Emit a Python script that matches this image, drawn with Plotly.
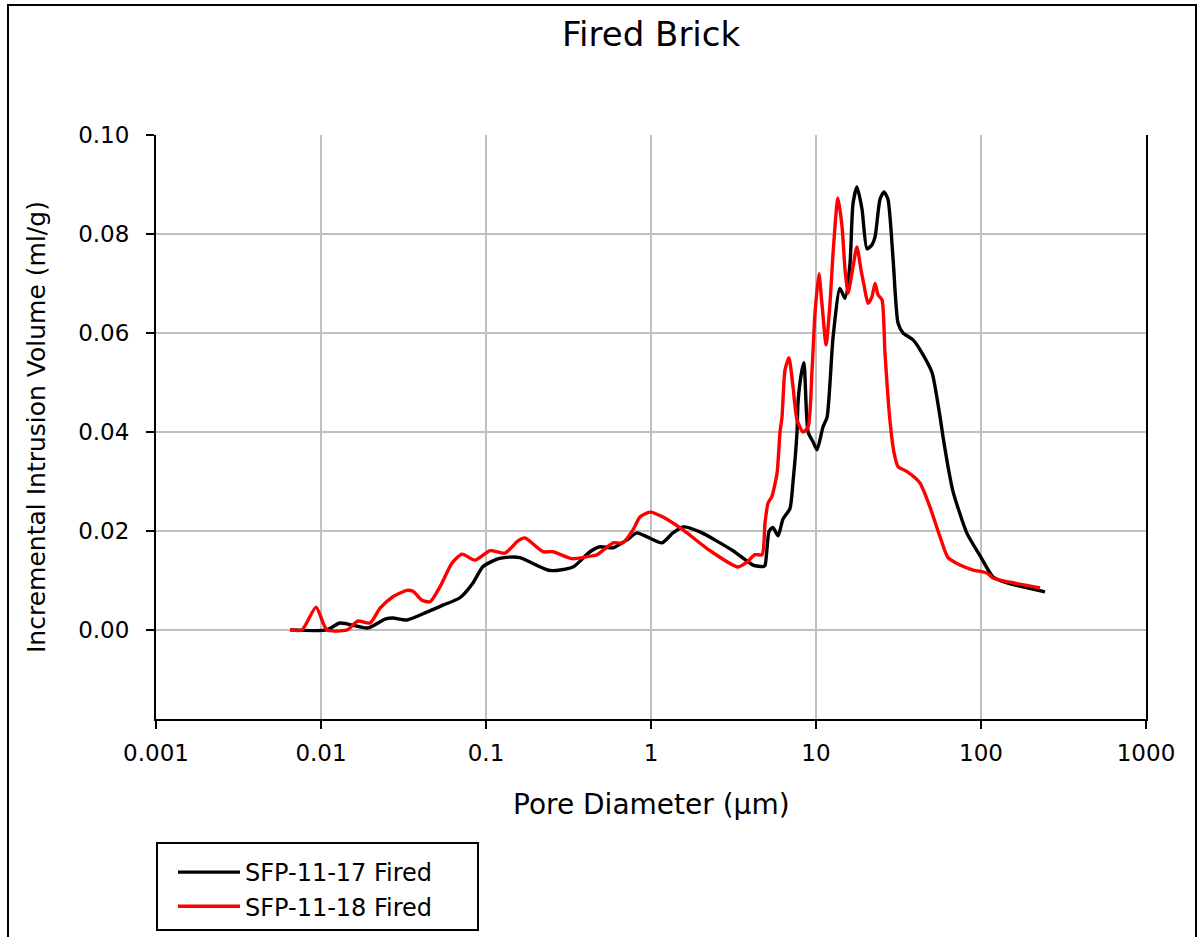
import plotly.graph_objects as go

# ---- data (pore diameter in µm, incremental intrusion in ml/g) ----
d17 = [0.00649, 0.01086, 0.01303, 0.01928, 0.02443, 0.02729, 0.03319, 0.04385, 0.05483,
       0.06950, 0.08337, 0.09594, 0.1167, 0.1396, 0.1607, 0.2443, 0.3365, 0.4266,
       0.4909, 0.5888, 0.7161, 0.8222, 0.9462, 1.167, 1.358, 1.563, 1.982, 3.141,
       4.150, 4.775, 4.909, 5.2, 5.483, 5.888, 6.310, 6.950, 7.261, 7.674, 7.780,
       8.222, 8.453, 8.954, 9.594, 10.14, 11.02, 11.67, 12.68, 13.96, 15.00, 16.07,
       16.75, 17.70, 19.01, 20.37, 21.83, 22.80, 24.43, 25.82, 27.29, 29.31, 31.41,
       33.65, 38.73, 43.85, 50.47, 56.49, 58.88, 63.10, 67.61, 82.22, 98.63,
       118.3, 143.9, 244.3]
v17 = [0.0, 0.0, 0.0014, 0.0004, 0.0022, 0.0024, 0.0020, 0.0036, 0.0050,
       0.0065, 0.0095, 0.0128, 0.0143, 0.0147, 0.0146, 0.0120, 0.0127, 0.0158,
       0.0168, 0.0166, 0.0182, 0.0196, 0.0188, 0.0176, 0.0196, 0.0208, 0.0198, 0.0160,
       0.0131, 0.0128, 0.0130, 0.0200, 0.0207, 0.0190, 0.0224, 0.0245, 0.0300, 0.0400, 0.0460,
       0.0525, 0.0540, 0.0400, 0.0380, 0.0364, 0.0410, 0.0430, 0.0590, 0.0690, 0.0670, 0.0740,
       0.0860, 0.0895, 0.0850, 0.0770, 0.0778, 0.0794, 0.0870, 0.0885, 0.0870, 0.0750, 0.0620,
       0.0600, 0.0586, 0.0560, 0.0520, 0.0430, 0.0390, 0.0330, 0.0280, 0.0195, 0.0150,
       0.0107, 0.0095, 0.0077]

d18 = [0.00649, 0.00767, 0.00933, 0.01086, 0.01439, 0.01675, 0.01982, 0.02280, 0.02729,
       0.03319, 0.03614, 0.04093, 0.04581, 0.05260, 0.06223, 0.07161, 0.08570, 0.1057,
       0.1303, 0.1563, 0.1722, 0.2213, 0.2547, 0.3319, 0.4093, 0.4710, 0.5888, 0.6761,
       0.7780, 0.8570, 0.9863, 1.183, 1.563, 2.280, 3.365, 3.819, 4.266, 4.710, 4.909,
       5.117, 5.408, 5.808, 6.053, 6.223, 6.486, 6.855, 7.261, 7.674, 8.337, 8.954,
       9.462, 9.863, 10.42, 10.86, 11.51, 12.16, 12.68, 13.58, 14.39, 15.00, 15.63,
       16.75, 17.70, 18.75, 19.54, 20.65, 21.83, 22.80, 23.77, 25.12, 26.18, 28.05,
       29.72, 31.41, 35.65, 42.66, 49.09, 56.49, 63.10, 74.64, 89.54, 108.6, 118.3, 228.0]
v18 = [0.0, 0.0, 0.0046, 0.0, 0.0, 0.0018, 0.0014, 0.0044, 0.0067,
       0.0080, 0.0078, 0.0060, 0.0057, 0.0087, 0.0135, 0.0153, 0.0141, 0.0160,
       0.0155, 0.0180, 0.0186, 0.0158, 0.0158, 0.0144, 0.0148, 0.0152, 0.0176, 0.0176,
       0.0202, 0.0228, 0.0238, 0.0228, 0.0202, 0.0160, 0.0127, 0.0137, 0.0152, 0.0152, 0.0216,
       0.0256, 0.0270, 0.0317, 0.0400, 0.0430, 0.0525, 0.0550, 0.0490, 0.0424, 0.0400, 0.0410,
       0.0525, 0.0640, 0.0720, 0.0660, 0.0576, 0.0660, 0.0760, 0.0873, 0.0814, 0.0727, 0.0680,
       0.0733, 0.0774, 0.0727, 0.0697, 0.0660, 0.0673, 0.0700, 0.0677, 0.0667, 0.0560, 0.0424,
       0.0358, 0.0330, 0.0320, 0.0297, 0.0248, 0.0188, 0.0146, 0.0131, 0.0121, 0.0115, 0.0105, 0.0085]

series_names = ["SFP-11-17 Fired", "SFP-11-18 Fired"]
series_colors = ["#000000", "#ff0000"]

x_tickvals = [0.001, 0.01, 0.1, 1, 10, 100, 1000]
x_ticktext = ["0.001", "0.01", "0.1", "1", "10", "100", "1000"]
y_tickvals = [0.0, 0.02, 0.04, 0.06, 0.08, 0.10]
y_ticktext = ["0.00", "0.02", "0.04", "0.06", "0.08", "0.10"]

FONT = "DejaVu Sans"

fig = go.Figure()
for xs, ys, name, col in [(d17, v17, series_names[0], series_colors[0]),
                          (d18, v18, series_names[1], series_colors[1])]:
    fig.add_trace(go.Scatter(x=xs, y=ys, mode="lines", name=name,
                             line=dict(color=col, width=3.4, shape="spline", smoothing=0.6)))

# geometry of plot area (pixels)
L, R, T, B = 156, 1146, 135, 719
W, H = R - L, B - T

def px(xp):
    return (xp - L) / W

def py(yp):
    return (B - yp) / H

fig.update_layout(
    width=1198, height=937,
    margin=dict(l=L, r=1198 - R, t=T, b=937 - B, autoexpand=False),
    paper_bgcolor="white", plot_bgcolor="white",
    font=dict(family=FONT, color="black"),
    showlegend=True,
    legend=dict(x=px(173), y=py(850), xanchor="left", yanchor="top",
                font=dict(size=24, family=FONT, color="black"),
                bgcolor="rgba(0,0,0,0)", borderwidth=0, itemwidth=62,
                tracegroupgap=0),
    xaxis=dict(type="log", range=[-3, 3], tickvals=x_tickvals, ticktext=x_ticktext,
               showgrid=True, gridcolor="#c0c0c0", gridwidth=2,
               showline=True, linecolor="black", linewidth=2,
               ticks="outside", ticklen=8, tickwidth=2, tickcolor="black",
               tickfont=dict(size=23, family=FONT, color="black"),
               ticklabelstandoff=4, automargin=False,
               zeroline=False),
    yaxis=dict(range=[-0.018, 0.1], tickvals=y_tickvals, ticktext=y_ticktext,
               showgrid=True, gridcolor="#c0c0c0", gridwidth=2,
               showline=True, linecolor="black", linewidth=2, mirror=True,
               ticks="outside", ticklen=8, tickwidth=2, tickcolor="black",
               tickfont=dict(size=23, family=FONT, color="black"),
               ticklabelstandoff=12, automargin=False,
               zeroline=False),
)

# titles
fig.add_annotation(text="Fired Brick", xref="paper", yref="paper", x=0.5, y=py(34),
                   xanchor="center", yanchor="middle", showarrow=False,
                   font=dict(size=34, family=FONT, color="black"))
fig.add_annotation(text="Pore Diameter (μm)", xref="paper", yref="paper", x=0.5, y=py(804),
                   xanchor="center", yanchor="middle", showarrow=False,
                   font=dict(size=28, family=FONT, color="black"))
fig.add_annotation(text="Incremental Intrusion Volume (ml/g)", xref="paper", yref="paper",
                   x=px(36), y=0.5, textangle=-90, xanchor="center", yanchor="middle",
                   showarrow=False, font=dict(size=25, family=FONT, color="black"))

# legend box and outer frame
fig.add_shape(type="rect", xref="paper", yref="paper", x0=px(157), x1=px(478),
              y0=py(930), y1=py(843), line=dict(color="black", width=2), layer="above")
fig.add_shape(type="rect", xref="paper", yref="paper", x0=px(8), x1=px(1196),
              y0=py(950), y1=py(5), line=dict(color="black", width=2), layer="above")

fig.write_html("out.html")
